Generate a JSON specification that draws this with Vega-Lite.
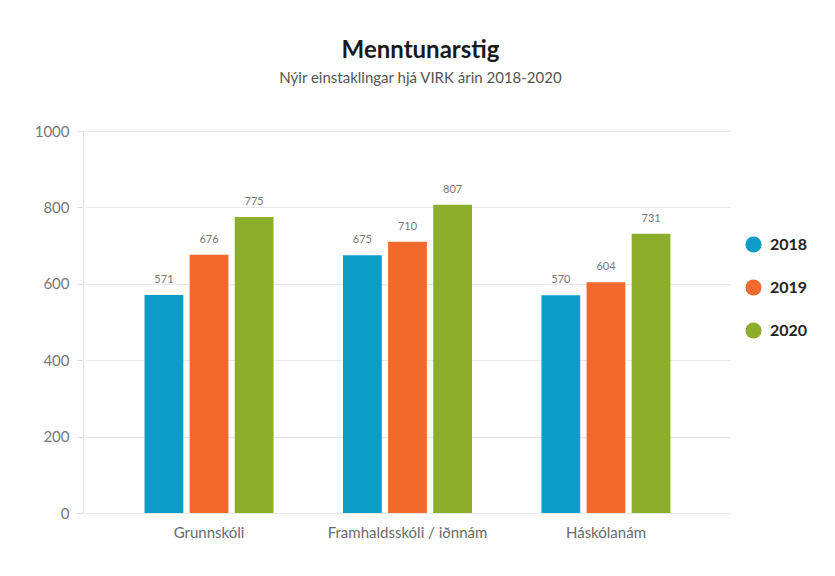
{
  "$schema": "https://vega.github.io/schema/vega-lite/v6.json",
  "autosize": "none",
  "width": 645,
  "height": 382,
  "padding": {"left": 85, "top": 131, "right": 105, "bottom": 63},
  "background": "white",
  "title": {
    "text": "Menntunarstig",
    "subtitle": "Nýir einstaklingar hjá VIRK árin 2018-2020",
    "anchor": "middle",
    "dx": 13,
    "offset": 38,
    "font": "Lato",
    "fontSize": 24,
    "fontWeight": "bold",
    "color": "#1a1a1a",
    "subtitleFont": "Lato",
    "subtitleFontSize": 15,
    "subtitleColor": "#555555",
    "subtitlePadding": 8
  },
  "data": {
    "values": [
      {"flokkur": "Grunnskóli", "ar": "2018", "fjoldi": 571},
      {"flokkur": "Grunnskóli", "ar": "2019", "fjoldi": 676},
      {"flokkur": "Grunnskóli", "ar": "2020", "fjoldi": 775},
      {"flokkur": "Framhaldsskóli / iðnnám", "ar": "2018", "fjoldi": 675},
      {"flokkur": "Framhaldsskóli / iðnnám", "ar": "2019", "fjoldi": 710},
      {"flokkur": "Framhaldsskóli / iðnnám", "ar": "2020", "fjoldi": 807},
      {"flokkur": "Háskólanám", "ar": "2018", "fjoldi": 570},
      {"flokkur": "Háskólanám", "ar": "2019", "fjoldi": 604},
      {"flokkur": "Háskólanám", "ar": "2020", "fjoldi": 731}
    ]
  },
  "encoding": {
    "x": {
      "field": "flokkur",
      "type": "nominal",
      "sort": null,
      "title": null,
      "scale": {"paddingInner": 0.35, "paddingOuter": 0.3},
      "axis": {
        "labelAngle": 0,
        "labelFont": "Lato",
        "labelFontSize": 15,
        "labelColor": "#6a6a6a",
        "labelPadding": 12,
        "domain": false,
        "ticks": false
      }
    },
    "xOffset": {
      "field": "ar",
      "type": "nominal",
      "scale": {"paddingInner": 0.14}
    },
    "y": {
      "field": "fjoldi",
      "type": "quantitative",
      "title": null,
      "scale": {"domain": [0, 1000], "nice": false},
      "axis": {
        "values": [0, 200, 400, 600, 800, 1000],
        "format": "d",
        "labelFont": "Lato",
        "labelFontSize": 15,
        "labelColor": "#777777",
        "labelPadding": 8,
        "domain": true,
        "domainColor": "#e4e4e4",
        "tickColor": "#dddddd",
        "tickSize": 6,
        "grid": true,
        "gridColor": "#e8e8e8",
        "offset": 2
      }
    }
  },
  "layer": [
    {
      "mark": {"type": "bar"},
      "encoding": {
        "color": {
          "field": "ar",
          "type": "nominal",
          "title": null,
          "scale": {"domain": ["2018", "2019", "2020"], "range": ["#0b9dc8", "#f2692d", "#8dae2a"]},
          "legend": {
            "orient": "none",
            "legendX": 660,
            "legendY": 105,
            "symbolType": "circle",
            "symbolSize": 260,
            "symbolStrokeWidth": 0,
            "labelFont": "Lato",
            "labelFontSize": 16,
            "labelFontWeight": "bold",
            "labelColor": "#222222",
            "labelOffset": 8,
            "rowPadding": 26
          }
        }
      }
    },
    {
      "mark": {"type": "text", "dy": -10, "baseline": "bottom", "font": "Lato", "fontSize": 11, "color": "#777777"},
      "encoding": {
        "text": {"field": "fjoldi", "type": "quantitative"}
      }
    }
  ],
  "config": {
    "view": {"stroke": null}
  }
}
